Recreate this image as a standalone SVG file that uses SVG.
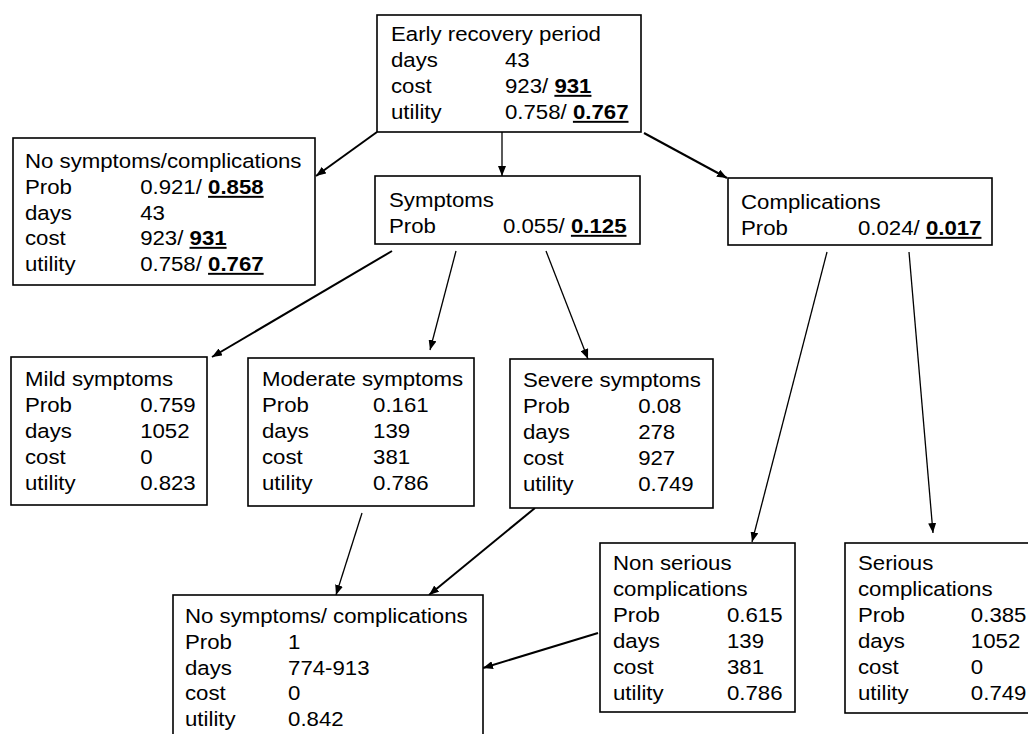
<svg xmlns="http://www.w3.org/2000/svg" width="1028" height="734" viewBox="0 0 1028 734">
<style>
.box{fill:#fff;stroke:#000;stroke-width:1.6}
.t{font-family:"Liberation Sans",Arial,sans-serif;font-size:19.5px;fill:#000}
.b{font-weight:bold;text-decoration:underline}
.c{stroke:#000;fill:none}
.w1{stroke-width:1.3}
.w2{stroke-width:2}
</style>
<defs>
<marker id="ah" viewBox="0 0 10 8" refX="10" refY="4" markerWidth="10" markerHeight="8" markerUnits="userSpaceOnUse" orient="auto">
<path d="M0,0 L10,4 L0,8 z" fill="#000"/>
</marker>
</defs>
<rect width="1028" height="734" fill="#fff"/>

<g id="connectors" class="c">
<line class="w2" x1="377" y1="132" x2="316" y2="176" marker-end="url(#ah)"/>
<line class="w1" x1="502" y1="132" x2="502" y2="176" marker-end="url(#ah)"/>
<line class="w2" x1="644" y1="133" x2="727" y2="178" marker-end="url(#ah)"/>
<line class="w2" x1="392" y1="251" x2="212" y2="357" marker-end="url(#ah)"/>
<line class="w1" x1="456" y1="251" x2="430" y2="350" marker-end="url(#ah)"/>
<line class="w1" x1="546" y1="251" x2="588" y2="359" marker-end="url(#ah)"/>
<line class="w1" x1="827" y1="252" x2="752" y2="542" marker-end="url(#ah)"/>
<line class="w1" x1="909" y1="252" x2="933" y2="533" marker-end="url(#ah)"/>
<line class="w1" x1="362" y1="513" x2="336" y2="595" marker-end="url(#ah)"/>
<line class="w2" x1="535" y1="508" x2="429" y2="595" marker-end="url(#ah)"/>
<line class="w2" x1="598" y1="633" x2="483" y2="668" marker-end="url(#ah)"/>
</g>

<g id="early-recovery">
<rect class="box" x="377" y="15" width="264" height="117"/>
<g class="t" transform="translate(391,0) scale(1.14,1)">
<text x="0" y="41">Early recovery period</text>
<text x="0" y="67">days</text><text x="100" y="67">43</text>
<text x="0" y="93">cost</text><text x="100" y="93">923/ <tspan class="b">931</tspan></text>
<text x="0" y="119">utility</text><text x="100" y="119">0.758/ <tspan class="b">0.767</tspan></text>
</g>
</g>

<g id="no-symptoms-top">
<rect class="box" x="13" y="138" width="302" height="147"/>
<g class="t" transform="translate(25,0) scale(1.14,1)">
<text x="0" y="168">No symptoms/complications</text>
<text x="0" y="194">Prob</text><text x="101" y="194">0.921/ <tspan class="b">0.858</tspan></text>
<text x="0" y="220">days</text><text x="101" y="220">43</text>
<text x="0" y="245">cost</text><text x="101" y="245">923/ <tspan class="b">931</tspan></text>
<text x="0" y="271">utility</text><text x="101" y="271">0.758/ <tspan class="b">0.767</tspan></text>
</g>
</g>

<g id="symptoms">
<rect class="box" x="375" y="176" width="265" height="68"/>
<g class="t" transform="translate(389,0) scale(1.14,1)">
<text x="0" y="207">Symptoms</text>
<text x="0" y="233">Prob</text><text x="100" y="233">0.055/ <tspan class="b">0.125</tspan></text>
</g>
</g>

<g id="complications">
<rect class="box" x="728" y="178" width="264" height="67"/>
<g class="t" transform="translate(741,0) scale(1.14,1)">
<text x="0" y="209">Complications</text>
<text x="0" y="235">Prob</text><text x="102.6" y="235">0.024/ <tspan class="b">0.017</tspan></text>
</g>
</g>

<g id="mild">
<rect class="box" x="11" y="357" width="196" height="148"/>
<g class="t" transform="translate(25,0) scale(1.14,1)">
<text x="0" y="386">Mild symptoms</text>
<text x="0" y="412">Prob</text><text x="101" y="412">0.759</text>
<text x="0" y="438">days</text><text x="101" y="438">1052</text>
<text x="0" y="464">cost</text><text x="101" y="464">0</text>
<text x="0" y="490">utility</text><text x="101" y="490">0.823</text>
</g>
</g>

<g id="moderate">
<rect class="box" x="248" y="358" width="226" height="148"/>
<g class="t" transform="translate(262,0) scale(1.14,1)">
<text x="0" y="386">Moderate symptoms</text>
<text x="0" y="412">Prob</text><text x="97.4" y="412">0.161</text>
<text x="0" y="438">days</text><text x="97.4" y="438">139</text>
<text x="0" y="464">cost</text><text x="97.4" y="464">381</text>
<text x="0" y="490">utility</text><text x="97.4" y="490">0.786</text>
</g>
</g>

<g id="severe">
<rect class="box" x="510" y="359" width="203" height="149"/>
<g class="t" transform="translate(523,0) scale(1.14,1)">
<text x="0" y="387">Severe symptoms</text>
<text x="0" y="413">Prob</text><text x="101" y="413">0.08</text>
<text x="0" y="439">days</text><text x="101" y="439">278</text>
<text x="0" y="465">cost</text><text x="101" y="465">927</text>
<text x="0" y="491">utility</text><text x="101" y="491">0.749</text>
</g>
</g>

<g id="no-symptoms-bottom">
<rect class="box" x="173" y="595" width="310" height="160"/>
<g class="t" transform="translate(185,0) scale(1.14,1)">
<text x="0" y="623">No symptoms/ complications</text>
<text x="0" y="649">Prob</text><text x="90.4" y="649">1</text>
<text x="0" y="675">days</text><text x="90.4" y="675">774-913</text>
<text x="0" y="700">cost</text><text x="90.4" y="700">0</text>
<text x="0" y="726">utility</text><text x="90.4" y="726">0.842</text>
</g>
</g>

<g id="non-serious">
<rect class="box" x="600" y="543" width="195" height="169"/>
<g class="t" transform="translate(613,0) scale(1.14,1)">
<text x="0" y="570">Non serious</text>
<text x="0" y="596">complications</text>
<text x="0" y="622">Prob</text><text x="100" y="622">0.615</text>
<text x="0" y="648">days</text><text x="100" y="648">139</text>
<text x="0" y="674">cost</text><text x="100" y="674">381</text>
<text x="0" y="700">utility</text><text x="100" y="700">0.786</text>
</g>
</g>

<g id="serious">
<rect class="box" x="845" y="543" width="200" height="170"/>
<g class="t" transform="translate(858,0) scale(1.14,1)">
<text x="0" y="570">Serious</text>
<text x="0" y="596">complications</text>
<text x="0" y="622">Prob</text><text x="99" y="622">0.385</text>
<text x="0" y="648">days</text><text x="99" y="648">1052</text>
<text x="0" y="674">cost</text><text x="99" y="674">0</text>
<text x="0" y="700">utility</text><text x="99" y="700">0.749</text>
</g>
</g>
</svg>
